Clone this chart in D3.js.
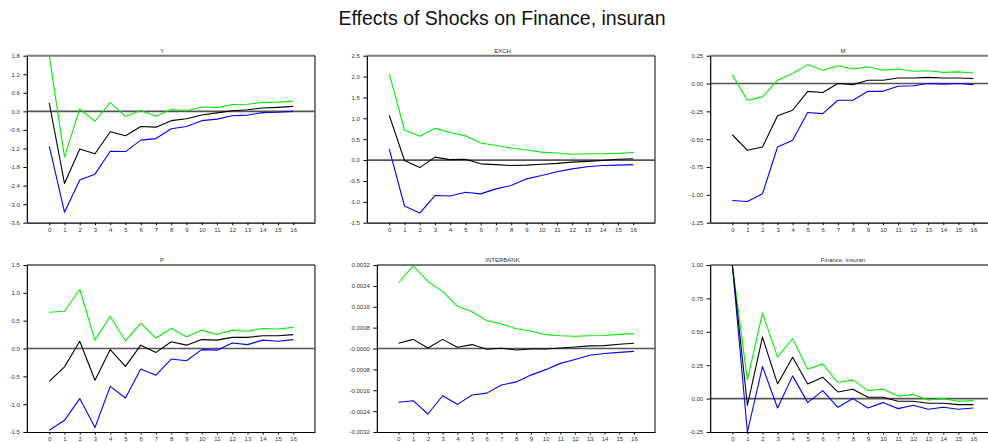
<!DOCTYPE html>
<html>
<head>
<meta charset="utf-8">
<script src="https://cdn.jsdelivr.net/npm/d3@7/dist/d3.min.js"></script>
<style>
  html, body { margin: 0; padding: 0; background: #fff; }
  svg { display: block; font-family: "Liberation Sans", Arial, sans-serif; }
</style>
</head>
<body>
<svg id="chart" width="988" height="443"></svg>
<script>
// ---------------- DATA ----------------
const chartTitle = "Effects of Shocks on Finance, insuran";
const periods = d3.range(0, 17);
const periodLabels = periods.map(String);

const panelNames = ["Y", "EXCH", "M", "P", "INTERBANK", "Finance, insuran"];

// Y
const Y_upper = [1.8, -1.47, 0.08, -0.32, 0.28, -0.16, 0.03, -0.16, 0.06, 0.02, 0.14, 0.12, 0.22, 0.23, 0.29, 0.30, 0.33];
const Y_resp  = [0.27, -2.33, -1.22, -1.37, -0.66, -0.79, -0.49, -0.51, -0.30, -0.24, -0.12, -0.05, 0.02, 0.05, 0.11, 0.13, 0.16];
const Y_lower = [-1.12, -3.26, -2.22, -2.03, -1.29, -1.30, -0.93, -0.88, -0.56, -0.49, -0.30, -0.25, -0.14, -0.12, -0.04, -0.03, 0.00];
const Y_ticks = [1.8, 1.2, 0.6, 0, -0.6, -1.2, -1.8, -2.4, -3.0, -3.6];
const Y_tickLabels = ["1.8", "1.2", "0.6", "0.0", "-0.6", "-1.2", "-1.8", "-2.4", "-3.0", "-3.6"];

// EXCH
const EXCH_upper = [2.07, 0.72, 0.57, 0.76, 0.66, 0.58, 0.41, 0.35, 0.29, 0.24, 0.19, 0.17, 0.14, 0.15, 0.15, 0.16, 0.18];
const EXCH_resp  = [1.07, -0.01, -0.18, 0.07, 0.01, 0.02, -0.09, -0.11, -0.13, -0.12, -0.10, -0.08, -0.05, -0.03, -0.01, 0.02, 0.03];
const EXCH_lower = [0.26, -1.10, -1.27, -0.85, -0.86, -0.77, -0.81, -0.69, -0.61, -0.45, -0.37, -0.28, -0.21, -0.16, -0.13, -0.12, -0.11];
const EXCH_ticks = [2.5, 2.0, 1.5, 1.0, 0.5, 0, -0.5, -1.0, -1.5];
const EXCH_tickLabels = ["2.5", "2.0", "1.5", "1.0", "0.5", "0.0", "-0.5", "-1.0", "-1.5"];

// M
const M_upper = [0.08, -0.15, -0.12, 0.03, 0.09, 0.17, 0.12, 0.16, 0.13, 0.15, 0.12, 0.13, 0.11, 0.115, 0.10, 0.105, 0.095];
const M_resp  = [-0.46, -0.60, -0.57, -0.29, -0.24, -0.07, -0.08, 0.00, -0.01, 0.03, 0.03, 0.05, 0.05, 0.055, 0.05, 0.05, 0.045];
const M_lower = [-1.05, -1.06, -0.99, -0.57, -0.51, -0.26, -0.27, -0.15, -0.15, -0.07, -0.07, -0.025, -0.02, 0.0, -0.005, 0.0, -0.01];
const M_ticks = [0.25, 0, -0.25, -0.5, -0.75, -1.0, -1.25];
const M_tickLabels = ["0.25", "0.00", "-0.25", "-0.50", "-0.75", "-1.00", "-1.25"];

// P
const P_upper = [0.65, 0.67, 1.06, 0.15, 0.58, 0.14, 0.45, 0.19, 0.36, 0.21, 0.33, 0.25, 0.33, 0.31, 0.36, 0.35, 0.38];
const P_resp  = [-0.59, -0.33, 0.13, -0.57, -0.02, -0.32, 0.06, -0.07, 0.12, 0.06, 0.16, 0.15, 0.20, 0.20, 0.23, 0.23, 0.25];
const P_lower = [-1.47, -1.29, -0.90, -1.42, -0.68, -0.89, -0.37, -0.48, -0.19, -0.22, -0.02, -0.03, 0.10, 0.07, 0.15, 0.13, 0.16];
const P_ticks = [1.5, 1.0, 0.5, 0, -0.5, -1.0, -1.5];
const P_tickLabels = ["1.5", "1.0", "0.5", "0.0", "-0.5", "-1.0", "-1.5"];

// INTERBANK
const IB_upper = [0.00252, 0.00317, 0.00257, 0.00219, 0.00162, 0.00141, 0.00107, 0.00094, 0.00076, 0.00066, 0.00053, 0.00049, 0.00047, 0.00049, 0.00050, 0.00054, 0.00057];
const IB_resp  = [0.00020, 0.00035, 0.00002, 0.00035, 0.000045, 0.00015, -0.00003, 0.00001, -0.00006, -0.00002, -0.00002, 0.00002, 0.00006, 0.00010, 0.00011, 0.00016, 0.00020];
const IB_lower = [-0.00206, -0.00200, -0.00251, -0.00181, -0.00214, -0.00178, -0.00171, -0.00140, -0.00128, -0.00102, -0.00081, -0.00057, -0.00042, -0.00026, -0.00019, -0.00015, -0.00011];
const IB_ticks = [0.0032, 0.0024, 0.0016, 0.0008, 0, -0.0008, -0.0016, -0.0024, -0.0032];
const IB_tickLabels = ["0.0032", "0.0024", "0.0016", "0.0008", "-0.0000", "-0.0008", "-0.0016", "-0.0024", "-0.0032"];

// Finance, insuran
const FI_upper = [1.0, 0.14, 0.64, 0.31, 0.45, 0.22, 0.26, 0.12, 0.14, 0.06, 0.07, 0.02, 0.03, -0.01, 0.0, -0.02, -0.015];
const FI_resp  = [1.0, -0.05, 0.46, 0.11, 0.31, 0.11, 0.16, 0.05, 0.07, 0.01, 0.01, -0.02, -0.02, -0.035, -0.035, -0.045, -0.045];
const FI_lower = [1.0, -0.25, 0.24, -0.07, 0.17, -0.03, 0.06, -0.065, 0.0, -0.07, -0.03, -0.075, -0.05, -0.08, -0.065, -0.08, -0.07];
const FI_ticks = [1.0, 0.75, 0.5, 0.25, 0, -0.25];
const FI_tickLabels = ["1.00", "0.75", "0.50", "0.25", "0.00", "-0.25"];

// ---------------- LAYOUT / STYLE ----------------
const panels = [
  { name: panelNames[0], upper: Y_upper, resp: Y_resp, lower: Y_lower, ticks: Y_ticks, labels: Y_tickLabels },
  { name: panelNames[1], upper: EXCH_upper, resp: EXCH_resp, lower: EXCH_lower, ticks: EXCH_ticks, labels: EXCH_tickLabels },
  { name: panelNames[2], upper: M_upper, resp: M_resp, lower: M_lower, ticks: M_ticks, labels: M_tickLabels },
  { name: panelNames[3], upper: P_upper, resp: P_resp, lower: P_lower, ticks: P_ticks, labels: P_tickLabels },
  { name: panelNames[4], upper: IB_upper, resp: IB_resp, lower: IB_lower, ticks: IB_ticks, labels: IB_tickLabels },
  { name: panelNames[5], upper: FI_upper, resp: FI_resp, lower: FI_lower, ticks: FI_ticks, labels: FI_tickLabels }
];

const cellX = [0, 340, 680];
const rowTop = [55.7, 265];
const plotH = 167;
const cellRight = 315;
const labelStart = 9;
const tickFont = 6;
const font = '"Liberation Sans", Arial, sans-serif';

const svg = d3.select("#chart");

svg.append("text")
  .attr("x", 502).attr("y", 25)
  .attr("text-anchor", "middle")
  .attr("font-size", 19.5)
  .attr("fill", "#111")
  .text(chartTitle);

// measure text
const measure = svg.append("text").attr("font-size", tickFont).attr("visibility", "hidden");
function textW(s) { measure.text(s); return measure.node().getComputedTextLength(); }

panels.forEach((p, i) => {
  const col = i % 3, row = Math.floor(i / 3);
  const cx = cellX[col];
  const maxW = d3.max(p.labels, textW);
  const left = cx + labelStart + maxW + 7.5;
  const right = cx + cellRight;
  const top = rowTop[row];
  const bottom = top + plotH;

  const x = d3.scaleLinear().domain([-1.47, 17.43]).range([left, right]);
  const y = d3.scaleLinear().domain([d3.min(p.ticks), d3.max(p.ticks)]).range([bottom, top]);

  const g = svg.append("g");

  // panel title
  g.append("text")
    .attr("x", 162 + 340.5 * col).attr("y", top - 3)
    .attr("text-anchor", "middle")
    .attr("font-size", 6).attr("fill", "#333")
    .text(p.name);

  // top border
  g.append("line")
    .attr("x1", left).attr("x2", right).attr("y1", top).attr("y2", top)
    .attr("stroke", "#7a7a7a").attr("stroke-width", 2);
  // right border
  g.append("line")
    .attr("x1", right).attr("x2", right).attr("y1", top).attr("y2", bottom)
    .attr("stroke", "#000").attr("stroke-width", 1);

  // zero line
  g.append("line")
    .attr("x1", left).attr("x2", right).attr("y1", y(0)).attr("y2", y(0))
    .attr("stroke", "#555").attr("stroke-width", 1.6);

  // axes
  const ya = g.append("g").attr("transform", `translate(${left},0)`)
    .call(d3.axisLeft(y).tickValues(p.ticks).tickFormat((d, k) => p.labels[k]).tickSize(3.5).tickPadding(3.5).tickSizeOuter(0));
  const xa = g.append("g").attr("transform", `translate(0,${bottom})`)
    .call(d3.axisBottom(x).tickValues(periods).tickFormat((d, k) => periodLabels[k]).tickSize(2.5).tickPadding(2.5).tickSizeOuter(0));
  [ya, xa].forEach(a => {
    a.selectAll("text").attr("font-size", tickFont).attr("fill", "#333").attr("font-family", font);
    a.selectAll("line").attr("stroke", "#000");
    a.select(".domain").attr("stroke", "#000").attr("stroke-width", 1.2);
  });

  const line = d3.line().x((d, k) => x(periods[k])).y(d => y(d));
  [[p.upper, "#00ee00"], [p.lower, "#0000ff"], [p.resp, "#000000"]].forEach(([vals, c]) => {
    g.append("path").datum(vals)
      .attr("d", line)
      .attr("fill", "none")
      .attr("stroke", c)
      .attr("stroke-width", 1.1)
      .attr("stroke-linejoin", "round");
  });
});
measure.remove();
</script>
</body>
</html>
